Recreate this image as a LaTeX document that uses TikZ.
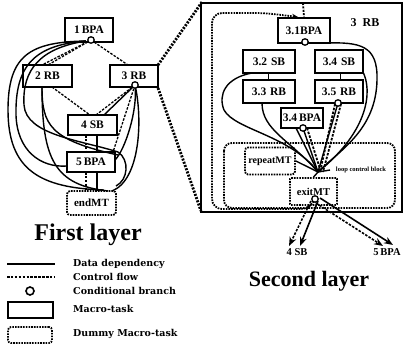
\documentclass[tikz,border=0pt]{standalone}
\usepackage{fontspec}
\setmainfont{Liberation Serif}
\newfontfamily\legfont{DejaVu Serif}
\usetikzlibrary{arrows.meta}
\begin{document}
\begin{tikzpicture}[x=1pt,y=-1pt,
  mt/.style={draw,line width=2.2pt,rectangle,inner sep=0pt,font=\bfseries\fontsize{11.5}{12}\selectfont},
  dmt/.style={draw,line width=1.8pt,dash pattern=on 1.6pt off 1.1pt,rounded corners=3pt,rectangle,inner sep=0pt,font=\bfseries\fontsize{11}{12}\selectfont},
  dep/.style={line width=1.4pt},
  ctl/.style={line width=1.3pt,dash pattern=on 2.5pt off 1.4pt},
  bigdot/.style={line width=2.8pt,dash pattern=on 2pt off 1.4pt},
  cb/.style={circle,draw,line width=1.3pt,fill=white,inner sep=0pt,minimum size=6.5pt},
  leg/.style={anchor=west,font=\legfont\bfseries\fontsize{9.5}{10}\selectfont,inner sep=0pt}]
\useasboundingbox (0,0) rectangle (409,345);

% ---------- first layer ----------
\node[mt,minimum width=48pt,minimum height=24pt] (b1) at (89,30) {1\,BPA};
\node[mt,minimum width=49pt,minimum height=22pt] (r2) at (47.5,76) {2 RB};
\node[mt,minimum width=48pt,minimum height=22pt] (r3) at (134,76) {3 RB};
\node[mt,minimum width=49pt,minimum height=20pt] (s4) at (92.5,125) {4 SB};
\node[mt,minimum width=48pt,minimum height=20pt] (p5) at (91,162) {5\,BPA};
\node[dmt,minimum width=49pt,minimum height=24pt] (e1) at (91.5,203) {endMT};
\coordinate (b1c) at (91,40);
\coordinate (r3c) at (135,85);

% control flow
\draw[ctl] (b1c) -- (42,65);
\draw[ctl] (b1c) -- (48,65);
\draw[ctl] (b1c) -- (128,65);
\draw[ctl] (52,87) -- (90,115);
\draw[ctl] (r3c) -- (96,115);
\draw[ctl] (r3c) -- (113,152);
\draw[ctl] (86,135) -- (86,152);
\draw[ctl] (86,172) -- (86,191);

% data dependency
\draw[dep] (r3c) -- (104,115);
\draw[dep] (97,135) -- (97,152);
\draw[dep] (97,172) -- (97,191);
\draw[dep] (86,41) .. controls (30,42) and (8,55) .. (8,110) .. controls (8,170) and (40,188) .. (104,190);
\draw[dep] (86,41) .. controls (35,45) and (15,65) .. (16,115) .. controls (17,150) and (40,168) .. (67,166);
\draw[dep] (86,41) .. controls (40,48) and (22,70) .. (24,105) .. controls (26,135) and (80,140) .. (118,152);
\draw[dep] (42,87) .. controls (42,125) and (50,140) .. (118,155);
\draw[dep] (42,87) .. controls (42,160) and (55,185) .. (108,191);
\draw[dep] (r3c) .. controls (138,110) and (125,150) .. (115,160);
\draw[dep] (r3c) .. controls (143,120) and (140,180) .. (112,191);
\draw[dep] (118,152) .. controls (130,160) and (128,180) .. (116,186);

\node[cb] at (b1c) {};
\node[cb] at (r3c) {};

\node[font=\bfseries\fontsize{24}{26}\selectfont,inner sep=0pt] (t1) at (88,235) {First layer};

% ---------- legend ----------
\coordinate (l1a) at (7,264); \coordinate (l1b) at (55,264);
\draw[dep] (l1a) -- (l1b);
\node[leg] (lt1) at (73,264) {Data dependency};
\coordinate (l2a) at (7,277); \coordinate (l2b) at (55,277);
\draw[ctl] (l2a) -- (l2b);
\node[leg] (lt2) at (73,277) {Control flow};
\node[cb,minimum size=8pt,line width=1.6pt] (lc) at (30,291) {};
\node[leg] (lt3) at (73,291) {Conditional branch};
\node[draw,line width=2.2pt,minimum width=45pt,minimum height=16pt,inner sep=0pt] (lm) at (30.5,310) {};
\node[leg] (lt4) at (73,309) {Macro-task};
\node[draw,line width=1.8pt,dash pattern=on 1.6pt off 1.1pt,rounded corners=3pt,minimum width=44pt,minimum height=16pt,inner sep=0pt] (ld) at (30,335) {};
\node[leg] (lt5) at (73,334) {Dummy Macro-task};

% ---------- second layer ----------
\draw[line width=1.8pt] (201,3) rectangle (402,212);
\node[font=\bfseries\fontsize{12}{12}\selectfont] (lab3) at (365,23) {3\ \ RB};

% links between layers
\draw[bigdot] (158,65) -- (202,2);
\draw[bigdot] (158,88) -- (201,211);

\node[mt,minimum width=52pt,minimum height=25pt] (q1) at (304,30.5) {3.1BPA};
\node[mt,minimum width=52pt,minimum height=23pt] (q2) at (269,61.5) {3.2\,\,SB};
\node[mt,minimum width=48pt,minimum height=23pt] (q4) at (339,61.5) {3.4\,\,SB};
\node[mt,minimum width=52pt,minimum height=23pt] (q3) at (269,91.5) {3.3\,\,RB};
\node[mt,minimum width=48pt,minimum height=23pt] (q5) at (339,91.5) {3.5\,\,RB};
\node[mt,minimum width=42pt,minimum height=20pt] (q6) at (302,118) {3.4\,BPA};
\coordinate (q1c) at (305,42);
\coordinate (q5c) at (338,103);
\coordinate (q6c) at (303,128);

% loop control block
\draw[line width=1.8pt,dash pattern=on 1.6pt off 1.1pt,rounded corners=8pt] (224,143) rectangle (395,208);
\node[font=\bfseries\fontsize{6.5}{7}\selectfont,fill=white,inner sep=0.5pt] (lcb) at (361,170) {loop control block};
\node[dmt,minimum width=50pt,minimum height=27pt,font=\bfseries\fontsize{10}{10}\selectfont] (rep) at (270,161) {repeatMT};
\node[dmt,rounded corners=1pt,minimum width=47pt,minimum height=27pt,font=\bfseries\fontsize{10.5}{10}\selectfont] (ex) at (313.5,191.5) {exitMT};
\coordinate (exc) at (315,199);
\coordinate (cv) at (318,172);

% entry and loop-back
\draw[bigdot,line width=1.8pt] (303,3) -- (q1.north);
\draw[line width=1.8pt,dash pattern=on 1.6pt off 1.1pt,rounded corners=10pt,-{Stealth[length=6pt,width=5pt]}] (exc) -- (311,209) -- (212,209) -- (212,13) -- (265,13) -- (298,17);

% short links
\draw[line width=0.6pt] (268,73) -- (268,80);
\draw[line width=0.6pt] (340,73) -- (340,80);

% data dependencies to exit
\draw[dep] (325,43) .. controls (360,42) and (378,45) .. (377,80) .. controls (376,130) and (340,150) .. (cv);
\draw[dep] (252,73) .. controls (225,78) and (218,95) .. (224,110) .. controls (235,130) and (290,135) .. (cv);
\draw[dep] (262,103) .. controls (262,130) and (290,140) .. (cv);
\draw[dep] (363,72) .. controls (372,90) and (370,130) .. (cv);
\draw[dep] (q5c) -- (cv);
\draw[ctl,line width=1.8pt] (335,104) -- (320,172);
\draw[ctl,line width=1.8pt] (341,104) -- (323,172);
\draw[dep] (q6c) -- (cv);
\draw[ctl,line width=1.8pt] (307,128) -- (321,172);
\draw[dep] (296,128) -- (cv);
\draw[dep] (rep.east) -- (cv);
\draw[dep] (cv) -- (ex.north);
\draw[dep] (330,170) -- (cv);

\node[cb] at (q1c) {};
\node[cb] at (q5c) {};
\node[cb] at (q6c) {};
\node[cb] at (exc) {};

% exits
\node[font=\bfseries\fontsize{10.5}{11}\selectfont] (o4) at (297,252) {4 SB};
\node[font=\bfseries\fontsize{10.5}{11}\selectfont] (o5) at (387,252) {5\,BPA};
\draw[dep,line width=1.6pt,-{Stealth[length=9pt,width=7pt]}] (318,201) -- (300,246);
\draw[ctl,line width=1.6pt,-{Stealth[length=9pt,width=7pt,open]}] (311,201) -- (289,246);
\draw[dep,line width=1.6pt,-{Stealth[length=9pt,width=7pt]}] (320,198) -- (393,245);
\draw[ctl,line width=1.6pt,-{Stealth[length=9pt,width=7pt,open]}] (316,203) -- (383,246);

\node[font=\bfseries\fontsize{22}{24}\selectfont,inner sep=0pt] (t2) at (309,281) {Second layer};
\end{tikzpicture}
\end{document}
